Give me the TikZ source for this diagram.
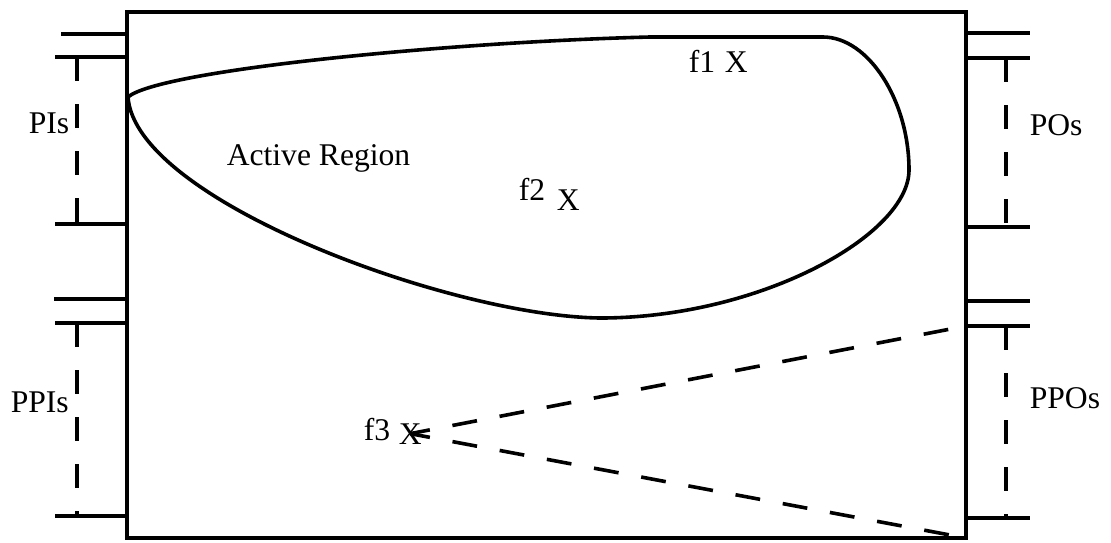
\documentclass[tikz,border=0pt]{standalone}
\usepackage{fontspec}
\setmainfont{Liberation Serif}
\usetikzlibrary{positioning,calc}

\begin{document}
\begin{tikzpicture}[x=0.5pt,y=-0.5pt,line width=1.8pt,
  lab/.style={inner sep=0pt,anchor=base west,font=\fontsize{15.8}{19}\selectfont},
  portdash/.style={dash pattern=on 12pt off 11.5pt},
  conedash/.style={dash pattern=on 12.5pt off 11.5pt,dash phase=2.5pt}]
  \useasboundingbox (0,0) rectangle (1111,542);
  \def\xl{127}
  \def\xr{966}
  \draw (\xl,12) rectangle (\xr,538);
  % port stubs, left side
  \foreach \ya/\yb/\yc/\s in {34/57/224/61,299/323/516/54}{
    \draw (\xl,\ya) -- (\s,\ya);
    \draw (\xl,\yb) -- (55,\yb);
    \draw (\xl,\yc) -- (55,\yc);
    \draw[portdash] (77,\yb) -- (77,\yc);
  }
  % port stubs, right side
  \foreach \ya/\yb/\yc in {33/58/227,301/326/518}{
    \draw (\xr,\ya) -- (1030,\ya);
    \draw (\xr,\yb) -- (1030,\yb);
    \draw (\xr,\yc) -- (1030,\yc);
    \draw[portdash] (1006,\yb) -- (1006,\yc);
  }
  \coordinate (ppotop) at (\xr,326);
  \coordinate (ppobot) at (\xr,538);
  \node[lab] (pis)  at (27,133)   {PIs};
  \node[lab] (ppis) at (9,412)    {PPIs};
  \node[lab] (pos)  at (1028,135) {POs};
  \node[lab] (ppos) at (1028,408) {PPOs};
  % active region
  \draw (128,97) .. controls (160,70) and (450,42) .. (650,37) -- (823,37)
    .. controls (868,37) and (909,100) .. (909,170)
    .. controls (909,235) and (760,318) .. (600,318)
    .. controls (450,316) and (135,200) .. cycle;
  \node[lab] (act) at (225,165) {Active Region};
  \node[lab] (f1) at (687,72)  {f1};
  \node[lab] (x1) at (723,72)  {X};
  \node[lab] (f2) at (517,200) {f2};
  \node[lab] (x2) at (555,210) {X};
  \node[lab] (f3) at (362,440) {f3};
  \node[lab] (x3) at (397,444) {X};
  \draw[conedash] (x3.center) -- (ppotop);
  \draw[conedash] (x3.center) -- (ppobot);
\end{tikzpicture}
\end{document}
